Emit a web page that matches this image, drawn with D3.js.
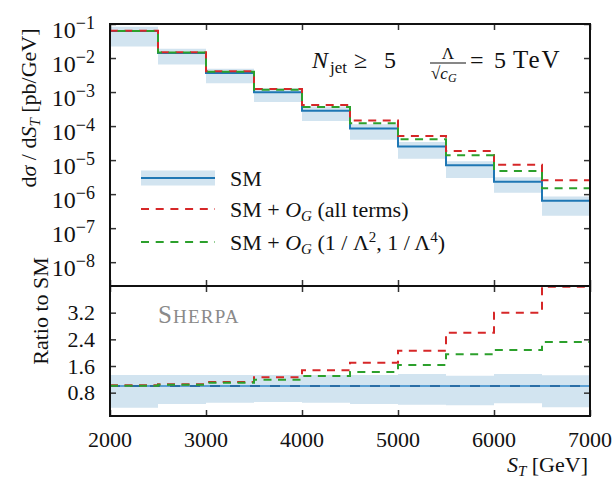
<!DOCTYPE html>
<html>
<head>
<meta charset="utf-8">
<script src="https://cdn.jsdelivr.net/npm/d3@7"></script>
<style>
  body { margin: 0; background: #fff; }
  svg { display: block; }
  text { font-family: "Liberation Serif", "Times New Roman", serif; fill: #111; }
</style>
</head>
<body>
<svg id="chart" width="616" height="479"></svg>
<script>
// ─── Data ──────────────────────────────────────────────────────
const binEdges = [2000, 2500, 3000, 3500, 4000, 4500, 5000, 5500, 6000, 6500, 7000];
// SM differential cross section per bin [pb/GeV]
const smXsec = [0.062, 0.0140, 0.00362, 9.8e-4, 2.82e-4, 8.55e-5, 2.5e-5, 7.1e-6, 2.3e-6, 6.4e-7];
// Ratios to SM
const ratioAllTerms = [1.02, 1.05, 1.12, 1.26, 1.47, 1.70, 2.06, 2.60, 3.20, 3.98];
const ratioQuartic = [1.01, 1.04, 1.10, 1.19, 1.30, 1.42, 1.63, 1.95, 2.08, 2.32];
// SM uncertainty band, as ratio to SM
const bandHi = [1.33, 1.33, 1.33, 1.33, 1.33, 1.33, 1.36, 1.31, 1.36, 1.32];
const bandLo = [0.35, 0.46, 0.50, 0.52, 0.50, 0.46, 0.44, 0.42, 0.48, 0.36];

const xTicks = [2000, 3000, 4000, 5000, 6000, 7000];
const logTicks = [1e-1, 1e-2, 1e-3, 1e-4, 1e-5, 1e-6, 1e-7, 1e-8];
const ratioTicks = [0.8, 1.6, 2.4, 3.2];

// ─── Layout ────────────────────────────────────────────────────
const X0 = 110, X1 = 590;
const TOP = { y0: 24, y1: 286 };
const BOT = { y0: 286, y1: 416 };
const TICK = 6;

const BLUE = '#1f77b4', RED = '#d62728', GREEN = '#2ca02c', BAND = '#d2e4f0';
const DASH = '8,6.5';

const svg = d3.select('#chart');

const x = d3.scaleLinear().domain([2000, 7000]).range([X0, X1]);
const yTop = d3.scaleLog().domain([Math.pow(10, -8.7), 1e-1]).range([TOP.y1, TOP.y0]);
const yRat = d3.scaleLinear().domain([0.1, 4.0]).range([BOT.y1, BOT.y0]);

// step series helper: one point per bin + closing point at last edge
function stepPts(vals) {
    const pts = vals.map((v, i) => ({ x: binEdges[i], v }));
    pts.push({ x: binEdges[binEdges.length - 1], v: vals[vals.length - 1] });
    return pts;
}
function bandPts(lo, hi) {
    const pts = lo.map((l, i) => ({ x: binEdges[i], lo: l, hi: hi[i] }));
    pts.push({ x: binEdges[binEdges.length - 1], lo: lo[lo.length - 1], hi: hi[hi.length - 1] });
    return pts;
}

const defs = svg.append('defs');
defs.append('clipPath').attr('id', 'clipTop').append('rect')
    .attr('x', X0).attr('y', TOP.y0).attr('width', X1 - X0).attr('height', TOP.y1 - TOP.y0);
defs.append('clipPath').attr('id', 'clipBot').append('rect')
    .attr('x', X0).attr('y', BOT.y0).attr('width', X1 - X0).attr('height', BOT.y1 - BOT.y0);

// ─── Top panel ─────────────────────────────────────────────────
const smLo = smXsec.map((v, i) => v * bandLo[i]);
const smHi = smXsec.map((v, i) => v * bandHi[i]);
const bsmAll = smXsec.map((v, i) => v * ratioAllTerms[i]);
const bsmQuartic = smXsec.map((v, i) => v * ratioQuartic[i]);

const gTop = svg.append('g').attr('clip-path', 'url(#clipTop)');

gTop.append('path')
    .attr('d', d3.area().curve(d3.curveStepAfter)
        .x(d => x(d.x)).y0(d => yTop(d.lo)).y1(d => yTop(d.hi))(bandPts(smLo, smHi)))
    .attr('fill', BAND);

const lineTop = d3.line().curve(d3.curveStepAfter).x(d => x(d.x)).y(d => yTop(d.v));

gTop.append('path').attr('d', lineTop(stepPts(smXsec)))
    .attr('fill', 'none').attr('stroke', BLUE).attr('stroke-width', 2);
gTop.append('path').attr('d', lineTop(stepPts(bsmAll)))
    .attr('fill', 'none').attr('stroke', RED).attr('stroke-width', 2)
    .attr('stroke-dasharray', DASH);
gTop.append('path').attr('d', lineTop(stepPts(bsmQuartic)))
    .attr('fill', 'none').attr('stroke', GREEN).attr('stroke-width', 2)
    .attr('stroke-dasharray', DASH).attr('stroke-dashoffset', 7);

// ─── Ratio panel ───────────────────────────────────────────────
const gBot = svg.append('g').attr('clip-path', 'url(#clipBot)');

gBot.append('path')
    .attr('d', d3.area().curve(d3.curveStepAfter)
        .x(d => x(d.x)).y0(d => yRat(d.lo)).y1(d => yRat(d.hi))(bandPts(bandLo, bandHi)))
    .attr('fill', BAND);

const lineRat = d3.line().curve(d3.curveStepAfter).x(d => x(d.x)).y(d => yRat(d.v));
const ones = smXsec.map(() => 1);

gBot.append('path').attr('d', lineRat(stepPts(ones)))
    .attr('fill', 'none').attr('stroke', '#5b9fd3').attr('stroke-width', 2);
gBot.append('path').attr('d', lineRat(stepPts(ones)))
    .attr('fill', 'none').attr('stroke', '#2a6ea6').attr('stroke-width', 2.2)
    .attr('stroke-dasharray', '10,10');
gBot.append('path').attr('d', lineRat(stepPts(ratioAllTerms)))
    .attr('fill', 'none').attr('stroke', RED).attr('stroke-width', 2)
    .attr('stroke-dasharray', DASH);
gBot.append('path').attr('d', lineRat(stepPts(ratioQuartic)))
    .attr('fill', 'none').attr('stroke', GREEN).attr('stroke-width', 2)
    .attr('stroke-dasharray', DASH);

// ─── Axes: ticks on all four sides, inward ─────────────────────
function panelAxes(y, y0, y1, yTickVals, yFmt) {
    svg.append('g').attr('transform', `translate(0,${y1})`)
        .call(d3.axisBottom(x).tickValues(xTicks).tickSizeInner(-TICK).tickSizeOuter(0).tickFormat(''));
    svg.append('g').attr('transform', `translate(0,${y0})`)
        .call(d3.axisTop(x).tickValues(xTicks).tickSizeInner(-TICK).tickSizeOuter(0).tickFormat(''));
    const left = svg.append('g').attr('class', 'yaxis').attr('transform', `translate(${X0},0)`)
        .call(d3.axisLeft(y).tickValues(yTickVals).tickSizeInner(-TICK).tickSizeOuter(0).tickPadding(15).tickFormat(yFmt));
    svg.append('g').attr('transform', `translate(${X1},0)`)
        .call(d3.axisRight(y).tickValues(yTickVals).tickSizeInner(-TICK).tickSizeOuter(0).tickFormat(''));
    svg.append('rect').attr('x', X0).attr('y', y0).attr('width', X1 - X0).attr('height', y1 - y0)
        .attr('fill', 'none').attr('stroke', '#111').attr('stroke-width', 2);
    return left;
}

const topLeft = panelAxes(yTop, TOP.y0, TOP.y1, logTicks, () => '');
panelAxes(yRat, BOT.y0, BOT.y1, ratioTicks, d3.format('.1f'));

svg.selectAll('.domain').remove();
svg.selectAll('.tick line').attr('stroke', '#333').attr('stroke-width', 1.5);
svg.selectAll('.tick text').style('font-family', '"Liberation Serif", serif')
    .style('font-size', '22px').attr('fill', '#111');

// log tick labels with superscripts
topLeft.selectAll('.tick').each(function (d) {
    const t = d3.select(this).select('text').text('');
    t.append('tspan').style('font-size', '24px').text('10');
    t.append('tspan').attr('dy', -9).style('font-size', '18px')
        .text('\u2212' + Math.round(-Math.log10(d)));
    t.attr('dy', '0.6em');
});

// x tick labels under the ratio panel
svg.append('g').selectAll('text').data(xTicks).join('text')
    .attr('x', d => x(d)).attr('y', 447)
    .attr('text-anchor', 'middle').style('font-size', '22px')
    .text(d => d);

// ─── Axis titles ───────────────────────────────────────────────
const yl = svg.append('text')
    .attr('transform', 'translate(36,108) rotate(-90)')
    .attr('text-anchor', 'middle').style('font-size', '22px');
yl.append('tspan').text('d');
yl.append('tspan').style('font-style', 'italic').text('σ');
yl.append('tspan').text(' / d');
yl.append('tspan').style('font-style', 'italic').text('S');
yl.append('tspan').attr('dy', 4).style('font-size', '15px').style('font-style', 'italic').text('T');
yl.append('tspan').attr('dy', -4).text(' [pb/GeV]');

svg.append('text')
    .attr('transform', 'translate(48,311) rotate(-90)')
    .attr('text-anchor', 'middle').style('font-size', '22px')
    .text('Ratio to SM');

const xl = svg.append('text').attr('x', 588).attr('y', 472)
    .attr('text-anchor', 'end').style('font-size', '22px');
xl.append('tspan').style('font-style', 'italic').text('S');
xl.append('tspan').attr('dy', 4).style('font-size', '15px').style('font-style', 'italic').text('T');
xl.append('tspan').attr('dy', -4).text(' [GeV]');

// ─── Annotations ───────────────────────────────────────────────
const ann = svg.append('g').style('font-size', '24px');
ann.append('text').attr('x', 312).attr('y', 68).style('font-style', 'italic').text('N');
ann.append('text').attr('x', 330).attr('y', 73).style('font-size', '17px').text('jet');
ann.append('text').attr('x', 354).attr('y', 68).text('\u2265');
ann.append('text').attr('x', 384).attr('y', 68).text('5');

ann.append('text').attr('x', 448).attr('y', 59).attr('text-anchor', 'middle')
    .style('font-size', '17px').text('Λ');
ann.append('line').attr('x1', 430).attr('x2', 466).attr('y1', 63).attr('y2', 63)
    .attr('stroke', '#111').attr('stroke-width', 1.2);
const den = ann.append('text').attr('x', 431).attr('y', 79).style('font-size', '17px');
den.append('tspan').text('√');
den.append('tspan').style('font-style', 'italic').text('c');
den.append('tspan').attr('dy', 3).style('font-size', '12px').style('font-style', 'italic').text('G');
ann.append('text').attr('x', 470).attr('y', 68).text('=');
ann.append('text').attr('x', 494).attr('y', 68).text('5');
ann.append('text').attr('x', 513).attr('y', 68).style('font-size', '25px')
    .attr('letter-spacing', 2).text('TeV');

const sh = svg.append('text').attr('x', 158).attr('y', 323)
    .style('font-size', '25px').attr('letter-spacing', 1.2);
sh.append('tspan').style('fill', '#8a8a8a').text('S');
sh.append('tspan').style('fill', '#8a8a8a').style('font-size', '19px').text('HERPA');

// ─── Legend ────────────────────────────────────────────────────
const legend = [
    { kind: 'sm', y: 178 },
    { kind: 'all', y: 209, color: RED },
    { kind: 'quartic', y: 242, color: GREEN }
];
legend.forEach(e => {
    if (e.kind === 'sm') {
        svg.append('rect').attr('x', 141).attr('y', e.y - 7.5).attr('width', 74).attr('height', 15).attr('fill', BAND);
        svg.append('line').attr('x1', 141).attr('x2', 215).attr('y1', e.y).attr('y2', e.y)
            .attr('stroke', BLUE).attr('stroke-width', 2);
    } else {
        svg.append('line').attr('x1', 141).attr('x2', 215).attr('y1', e.y).attr('y2', e.y)
            .attr('stroke', e.color).attr('stroke-width', 2).attr('stroke-dasharray', '8,6.7');
    }
    const t = svg.append('text').attr('x', 230).attr('y', e.y + 7.5).style('font-size', '22px');
    if (e.kind === 'sm') { t.text('SM'); return; }
    t.append('tspan').text('SM + ');
    t.append('tspan').style('font-style', 'italic').text('O');
    t.append('tspan').attr('dy', 4).style('font-size', '15px').style('font-style', 'italic').text('G');
    if (e.kind === 'all') {
        t.append('tspan').attr('dy', -4).text(' (all terms)');
    } else {
        t.append('tspan').attr('dy', -4).text(' (1 / Λ');
        t.append('tspan').attr('dy', -8).style('font-size', '15px').text('2');
        t.append('tspan').attr('dy', 8).text(', 1 / Λ');
        t.append('tspan').attr('dy', -8).style('font-size', '15px').text('4');
        t.append('tspan').attr('dy', 8).text(')');
    }
});
</script>
</body>
</html>
